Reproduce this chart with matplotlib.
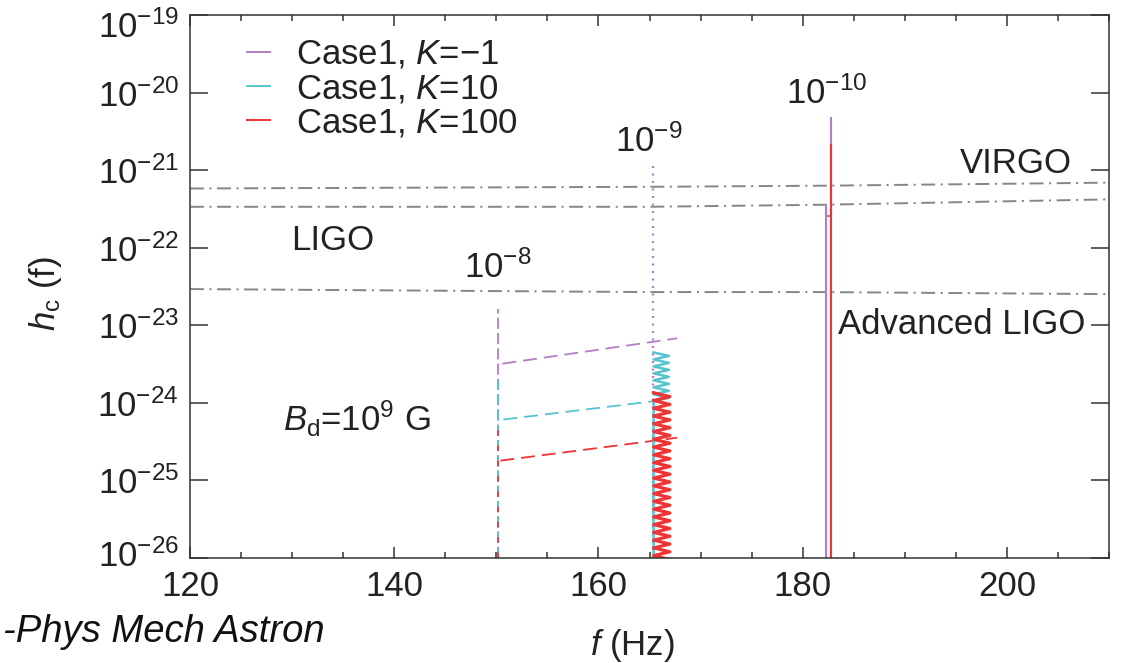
import numpy as np
import matplotlib
matplotlib.use("Agg")
import matplotlib.pyplot as plt
import matplotlib.transforms as mtransforms
from matplotlib.lines import Line2D
from matplotlib.ticker import MultipleLocator, FixedLocator, NullLocator, LogFormatterMathtext

plt.rcParams.update({
    "font.family": ["Liberation Sans", "DejaVu Sans"],
    "mathtext.fontset": "custom",
    "mathtext.rm": "Liberation Sans",
    "mathtext.it": "Liberation Sans:italic",
    "mathtext.bf": "Liberation Sans:bold",
    "lines.scale_dashes": False,
})

# ---------------------------------------------------------------- data
series_labels = ["Case1, $K$=\u22121", "Case1, $K$=10", "Case1, $K$=100"]
series_colors = ["#b57cc6", "#55c4ce", "#ee3434"]

# vertical rise at f ~ 150 Hz (B ~ 1e-8)
rise_f = 150.2
rise_top = [1.6e-23, 2.0e-24, 5.7e-25]

# sloped dashed tracks after the first jump
track_f = [[150.6, 167.7], [150.7, 165.4], [150.4, 167.7]]
track_h = [[3.2e-24, 6.8e-24], [6.1e-25, 1.05e-24], [1.8e-25, 3.55e-25]]

# K = -1 dotted jump near 165 Hz (B ~ 1e-9)
jump9_f = [165.3, 165.3]
jump9_h = [1e-26, 1.2e-21]

# oscillating tail of K = 10 near 165-167 Hz
cyan_coil_f = [165.4, 166.9, 165.4, 166.9, 165.4, 166.9, 165.4, 166.9,
               165.4, 166.9, 165.4, 166.9, 165.4, 166.9, 165.4, 165.4]
cyan_coil_logh = [-23.35, -23.395, -23.44, -23.485, -23.53, -23.575, -23.62,
                  -23.665, -23.71, -23.755, -23.80, -23.845, -23.89, -23.935,
                  -23.98, -26.0]

# oscillating tail of K = 100 near 165-167 Hz
red_coil_f = [165.4, 167.0, 165.4, 167.0, 165.4, 167.0, 165.4, 167.0,
              165.4, 167.0, 165.4, 167.0, 165.4, 167.0, 165.4, 167.0,
              165.4, 167.0, 165.4, 167.0, 165.4, 167.0, 165.4, 167.0,
              165.4, 167.0, 165.4, 167.0, 165.4, 167.0, 165.4, 167.0,
              165.4, 167.0, 165.4, 167.0, 165.4, 167.0, 165.4, 167.0,
              165.4, 167.0, 165.4, 167.0]
red_coil_logh = [-23.87, -23.92, -23.97, -24.02, -24.07, -24.12, -24.17, -24.22,
                 -24.27, -24.32, -24.37, -24.42, -24.47, -24.52, -24.57, -24.62,
                 -24.67, -24.72, -24.77, -24.82, -24.87, -24.92, -24.97, -25.02,
                 -25.07, -25.12, -25.17, -25.22, -25.27, -25.32, -25.37, -25.42,
                 -25.47, -25.52, -25.57, -25.62, -25.67, -25.72, -25.77, -25.82,
                 -25.87, -25.92, -25.97, -26.02]

# spikes near 182 Hz (B ~ 1e-10)
spike_k1_f = [182.32, 182.32, 182.32, 182.75, 182.75, 182.75]
spike_k1_h = [1e-26, 3.5e-22, 2.6e-22, 2.6e-22, 4.7e-21, 1e-26]
spike_k100_f = [182.75, 182.75]
spike_k100_h = [1e-26, 2.1e-21]

# detector sensitivity curves
det_f = [120, 165, 182, 210]
virgo_h = [5.8e-22, 6.1e-22, 6.3e-22, 6.9e-22]
ligo_h = [3.37e-22, 3.37e-22, 3.58e-22, 4.2e-22]
adv_ligo_h = [2.93e-23, 2.68e-23, 2.68e-23, 2.52e-23]

x_major = [120, 140, 160, 180, 200]
y_major = [1e-26, 1e-25, 1e-24, 1e-23, 1e-22, 1e-21, 1e-20, 1e-19]

# ---------------------------------------------------------------- figure
W, H = 1121, 663
fig = plt.figure(figsize=(W / 100, H / 100), dpi=100)
ax = fig.add_axes([190 / W, 1 - 558 / H, (1109 - 190) / W, (558 - 15) / H])
ax.set_yscale("log")
ax.set_xlim(120, 210)
ax.set_ylim(1e-26, 1e-19)

ink = "#333333"
txt = "#222222"
fs = 25

# detector curves
dd = dict(color="#858585", lw=1.4, dashes=(10, 4, 1.5, 4))
ax.plot(det_f, virgo_h, **dd)
ax.plot(det_f, ligo_h, **dd)
ax.plot(det_f, adv_ligo_h, **dd)

# vertical rises (overlapping dashes interleave colours) and sloped tracks
rise_dashes = [(8, 3), (8, 3), (4, 7)]
for i in range(3):
    c = series_colors[i]
    ax.plot([rise_f, rise_f], [1e-26, rise_top[i]], color=c, lw=1.3,
            dashes=rise_dashes[i])
    ax.plot(track_f[i], track_h[i], color=c, lw=1.3, dashes=(10, 5))

# dotted jump of K=-1
ax.plot(jump9_f, jump9_h, color=series_colors[0], lw=1.7, dashes=(1.4, 4))

# oscillating tails
ax.plot(cyan_coil_f, np.power(10.0, cyan_coil_logh), color=series_colors[1], lw=1.8)
ax.plot(red_coil_f, np.power(10.0, red_coil_logh), color=series_colors[2], lw=2.3)

# spikes
ax.plot(spike_k1_f, spike_k1_h, color=series_colors[0], lw=1.5)
ax.plot(spike_k100_f, spike_k100_h, color=series_colors[2], lw=1.5)

# ticks
ax.xaxis.set_major_locator(FixedLocator(x_major))
ax.xaxis.set_minor_locator(MultipleLocator(5))
ax.yaxis.set_major_locator(FixedLocator(y_major))
ax.yaxis.set_minor_locator(NullLocator())
ax.yaxis.set_major_formatter(LogFormatterMathtext())
ax.tick_params(which="both", direction="in", top=True, right=True,
               color=ink, width=1.1, labelsize=fs, labelcolor=txt)
ax.tick_params(axis="x", which="major", length=8, pad=9)
ax.tick_params(axis="x", which="minor", length=4.5)
ax.tick_params(axis="y", which="major", length=13, pad=8)
for s in ax.spines.values():
    s.set_color(ink)
    s.set_linewidth(1.1)

# nudge the end labels of the y axis inwards
ylabels = ax.get_yticklabels()
ylabels[0].set_transform(ylabels[0].get_transform() +
                         mtransforms.ScaledTranslation(0, 5 / 100, fig.dpi_scale_trans))
ylabels[-1].set_transform(ylabels[-1].get_transform() +
                          mtransforms.ScaledTranslation(0, -9 / 100, fig.dpi_scale_trans))

# annotations
ax.text(150.1, 10 ** -22.25, r"$10^{-8}$", fontsize=fs, color=txt, ha="center", va="center")
ax.text(164.9, 10 ** -20.63, r"$10^{-9}$", fontsize=fs, color=txt, ha="center", va="center")
ax.text(182.35, 10 ** -20.01, r"$10^{-10}$", fontsize=fs, color=txt, ha="center", va="center")
ax.text(134.0, 10 ** -21.91, "LIGO", fontsize=fs, color=txt, ha="center", va="center")
ax.text(200.9, 10 ** -20.92, "VIRGO", fontsize=fs, color=txt, ha="center", va="center")
ax.text(195.6, 10 ** -22.99, "Advanced LIGO", fontsize=fs, color=txt, ha="center", va="center")
ax.text(136.3, 10 ** -24.21, r"$B_{\rm d}$=10$^{9}$ G", fontsize=fs, color=txt,
        ha="center", va="center")

# legend
handles = [Line2D([], [], color=c, lw=1.4) for c in series_colors]
ax.legend(handles, series_labels, loc="upper left",
          bbox_to_anchor=(247 / W, 1 - 38 / H), bbox_transform=fig.transFigure,
          frameon=False, fontsize=fs, borderpad=0, borderaxespad=0,
          handlelength=0.65, handletextpad=0.75, labelspacing=0.03,
          labelcolor=txt)

# axis labels and source note
fig.text(46 / W, 1 - 294 / H, r"$h_{\rm c}$ (f)", rotation=90, fontsize=fs,
         color=txt, ha="center", va="center")
fig.text(632 / W, 1 - 646 / H, r"$f$ (Hz)", fontsize=fs, color=txt,
         ha="center", va="center")
fig.text(325 / W, 1 - 632 / H, "-Phys Mech Astron", fontsize=27.5,
         style="italic", color="#111111", ha="right", va="center")

fig.savefig("out.png", dpi=100)
